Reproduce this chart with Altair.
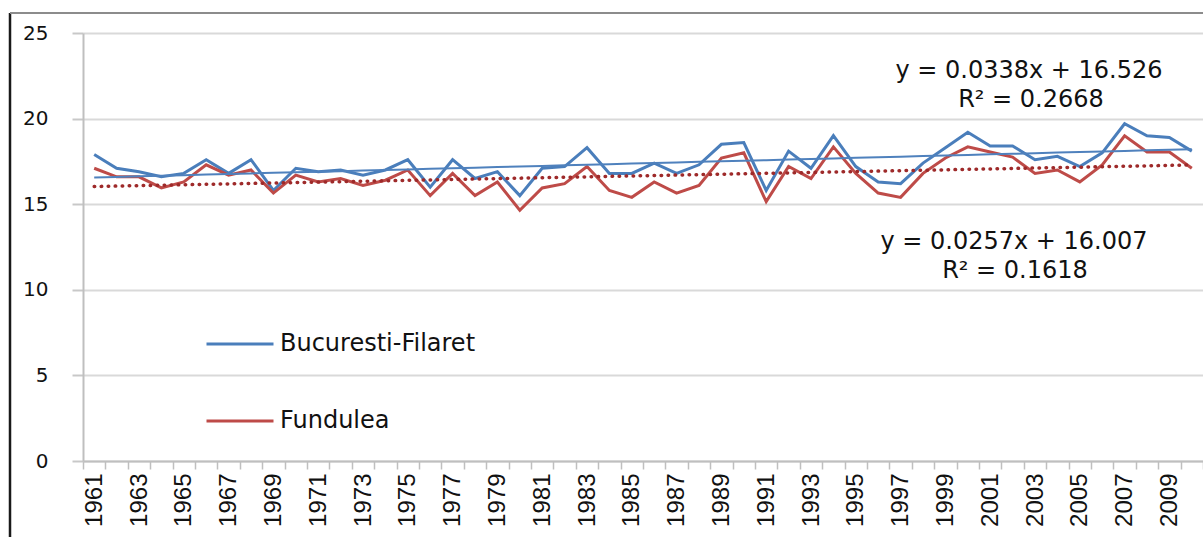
import altair as alt
import pandas as pd

# Annual mean temperature (°C), 1961-2010
years = list(range(1961, 2011))

bucuresti = [17.9, 17.1, 16.9, 16.6, 16.8, 17.6, 16.8, 17.6, 15.8, 17.1,
             16.9, 17.0, 16.7, 17.0, 17.6, 16.0, 17.6, 16.5, 16.9, 15.5,
             17.1, 17.2, 18.3, 16.8, 16.8, 17.4, 16.8, 17.3, 18.5, 18.6,
             15.8, 18.1, 17.1, 19.0, 17.2, 16.3, 16.2, 17.4, 18.3, 19.2,
             18.4, 18.4, 17.6, 17.8, 17.2, 18.0, 19.7, 19.0, 18.9, 18.1]

fundulea = [17.1, 16.6, 16.6, 15.95, 16.3, 17.3, 16.7, 17.0, 15.65, 16.7,
            16.3, 16.5, 16.1, 16.4, 17.0, 15.5, 16.8, 15.5, 16.3, 14.65,
            15.95, 16.2, 17.2, 15.8, 15.4, 16.3, 15.65, 16.1, 17.7, 18.0,
            15.15, 17.2, 16.5, 18.35, 16.8, 15.65, 15.4, 16.8, 17.7, 18.35,
            18.05, 17.75, 16.8, 17.0, 16.3, 17.3, 19.0, 18.05, 18.05, 17.1]

series_names = ["Bucuresti-Filaret", "Fundulea"]
series_colors = ["#4A7EBB", "#BE4B48"]

# Linear trend coefficients (x = 1 for the first year)
trend_slopes = [0.0338, 0.0257]
trend_intercepts = [16.526, 16.007]
trend_labels = [["y = 0.0338x + 16.526", "R² = 0.2668"],
                ["y = 0.0257x + 16.007", "R² = 0.1618"]]

FONT = "DejaVu Sans"

obs = pd.DataFrame({
    "year": years * 2,
    "value": bucuresti + fundulea,
    "series": [series_names[0]] * len(years) + [series_names[1]] * len(years),
})

trend_rows = []
for name, a, b in zip(series_names, trend_slopes, trend_intercepts):
    for i, yr in enumerate(years, start=1):
        trend_rows.append({"year": yr, "value": a * i + b, "series": name})
trend = pd.DataFrame(trend_rows)

x_enc = alt.X(
    "year:O",
    title=None,
    scale=alt.Scale(paddingInner=0, paddingOuter=0),
    axis=alt.Axis(
        labelAngle=-90,
        labelExpr="(datum.value - 1961) % 2 == 0 ? '' + datum.value : ''",
        labelOverlap=False,
        labelFont="Liberation Sans",
        labelFontSize=24,
        labelColor="#111111",
        labelPadding=4,
        tickBand="extent",
        tickSize=8,
        tickColor="#BFBFBF",
        tickWidth=1.5,
        domainColor="#BFBFBF",
        domainWidth=2,
        grid=False,
    ),
)

y_enc = alt.Y(
    "value:Q",
    title=None,
    scale=alt.Scale(domain=[0, 25], nice=False, zero=True),
    axis=alt.Axis(
        values=[0, 5, 10, 15, 20, 25],
        labelFont=FONT,
        labelFontSize=20,
        labelColor="#111111",
        labelPadding=24,
        tickSize=11,
        tickColor="#C8C8C8",
        tickWidth=2,
        domainColor="#BFBFBF",
        domainWidth=2,
        gridColor="#D9D9D9",
        gridWidth=2,
    ),
)

lines = alt.Chart(obs).mark_line(strokeWidth=3).encode(
    x=x_enc,
    y=y_enc,
    color=alt.Color(
        "series:N",
        scale=alt.Scale(domain=series_names, range=series_colors),
        legend=alt.Legend(
            title=None,
            orient="none",
            legendX=122,
            legendY=276,
            direction="vertical",
            symbolType="stroke",
            symbolSize=4489,
            symbolStrokeWidth=3,
            labelFont=FONT,
            labelFontSize=24,
            labelLimit=0,
            labelColor="#111111",
            labelOffset=5,
            rowPadding=30,
        ),
    ),
)

trend_blue = alt.Chart(trend).transform_filter(
    alt.datum.series == series_names[0]
).mark_line(strokeWidth=2, color="#4F81BD").encode(x="year:O", y="value:Q")

trend_red = alt.Chart(trend).transform_filter(
    alt.datum.series == series_names[1]
).mark_line(strokeWidth=3.5, color="#9E2A2A", strokeDash=[0.5, 6.5],
            strokeCap="round").encode(x="year:O", y="value:Q")

def label(text, x, y):
    return alt.Chart(pd.DataFrame({"t": [text]})).mark_text(
        font=FONT, fontSize=24, color="#111111", align="center", baseline="middle"
    ).encode(text="t:N", x=alt.value(x), y=alt.value(y))

eq_texts = [
    label(trend_labels[0][0], 946, 38),
    label(trend_labels[0][1], 948, 67),
    label(trend_labels[1][0], 931, 209),
    label(trend_labels[1][1], 932, 238),
]

# Outer chart border: dark left edge, grey top edge
frame_left = alt.Chart(pd.DataFrame({"k": [0]})).mark_rule(
    color="#1A1A1A", strokeWidth=2.5
).encode(x=alt.value(-73), y=alt.value(-20), y2=alt.value(504))
frame_top = alt.Chart(pd.DataFrame({"k": [0]})).mark_rule(
    color="#8C8C8C", strokeWidth=2
).encode(x=alt.value(-73), x2=alt.value(1120), y=alt.value(-20))

chart = alt.layer(
    frame_left, frame_top, lines, trend_blue, trend_red, *eq_texts
).properties(
    width=1120,
    height=428,
    padding={"left": 83, "top": 33, "right": 0, "bottom": 76},
    autosize=alt.AutoSizeParams(type="none"),
    background="white",
).configure_view(
    stroke=None
).configure_axisX(
    labelFont="Liberation Sans", labelFontSize=24
)

chart.save("out.html", embed_options={"renderer": "svg", "actions": False})
